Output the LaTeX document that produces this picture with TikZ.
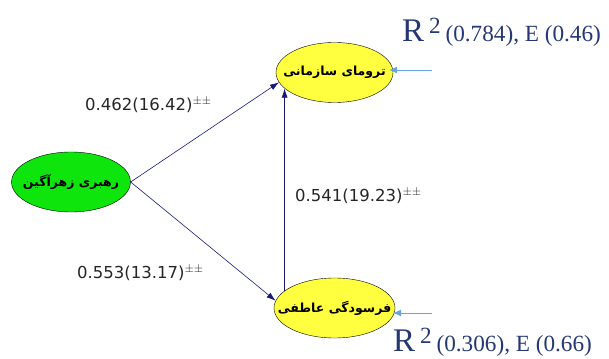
\documentclass[tikz,border=0pt]{standalone}
\usepackage{fontspec}
\setmainfont{Liberation Serif}
\newfontfamily\farsifont[Script=Arabic]{DejaVu Sans}
\newfontfamily\coeffont{DejaVu Sans}
\TeXXeTstate=1
\usepackage{tikz}
\usetikzlibrary{positioning}
\usetikzlibrary{shapes.geometric,arrows.meta}
\definecolor{navy}{rgb}{0.1,0.1,0.45}
\definecolor{skyarrow}{rgb}{0.4,0.65,0.88}
\definecolor{rtext}{rgb}{0.15,0.22,0.45}
\definecolor{leadgreen}{rgb}{0.05,0.9,0.05}
\definecolor{latyellow}{rgb}{1,1,0.25}
\newcommand{\rsqtext}[2]{{\fontsize{33}{33}\selectfont R}\kern5pt\raisebox{8pt}{2}\kern-1pt{} (#1), E (#2)}

\begin{document}
\begin{tikzpicture}[x=1pt, y=1pt,
    every node/.style = {inner sep=0pt},
    latent/.style = {draw, ellipse, thin, inner xsep=-8pt, minimum width=118pt, minimum height=60pt,
        font=\farsifont\bfseries\fontsize{12.5}{13}\selectfont},
    path/.style = {navy, semithick, -{Latex[length=9pt,width=6pt]}},
    err/.style = {skyarrow, thick, -{Latex[length=8pt,width=7pt]}},
    coef/.style = {anchor=west, font=\coeffont\fontsize{16.5}{18}\selectfont, text=black!85},
    rsq/.style = {anchor=base west, text=rtext, font=\fontsize{23.2}{25}\selectfont}
    ]
    \useasboundingbox (0,0) rectangle (609,358);
    % latent variables
    \node[latent, fill=leadgreen, inner xsep=-6pt] (leader) at (71,176) {\beginR رهبری زهرآگین\endR};
    \node[latent, fill=latyellow, minimum width=117pt, inner xsep=-10pt] (trauma) at (334.5,285.5) {\beginR ترومای سازمانی\endR};
    \node[latent, fill=latyellow, minimum width=121pt, inner xsep=-14pt] (burnout) at (334.5,50) {\beginR فرسودگی عاطفی\endR};
    % paths
    \draw[path] (leader.east) -- (trauma.190);
    \draw[path] (leader.east) -- (burnout.173);
    \draw[path] (burnout.161) -- (burnout.161 |- trauma.198);
    \node[coef] (c1) at (85,253) {0.462(16.42)$^{\pm\pm}$};
    \node[coef] (c2) at (77,85) {0.553(13.17)$^{\pm\pm}$};
    \node[coef] (c3) at (295,162) {0.541(19.23)$^{\pm\pm}$};
    % errors
    \coordinate (e1) at (432,288);
    \coordinate (e2) at (432,45);
    \draw[err] (e1) -- (e1 -| trauma.east) [shorten >=-4pt];
    \draw[err] (e2) -- (e2 -| burnout.east) [shorten >=-2pt];
    \node[rsq] (r1) at (402,316) {\rsqtext{0.784}{0.46}};
    \node[rsq] (r2) at (393,6) {\rsqtext{0.306}{0.66}};
\end{tikzpicture}
\end{document}
